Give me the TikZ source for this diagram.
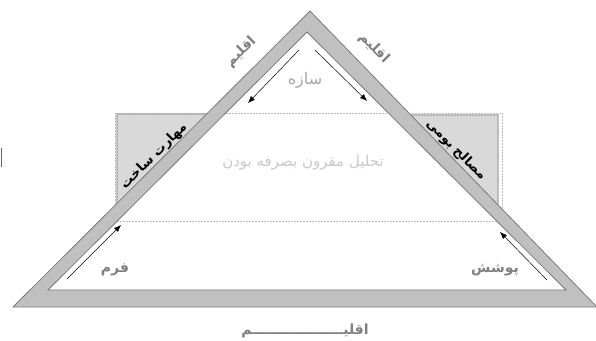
\documentclass[tikz,border=0pt]{standalone}
\usepackage{fontspec}
\usetikzlibrary{arrows.meta}
\newfontfamily\arabicfont[Script=Arabic]{DejaVu Sans}
\TeXXeTstate=1
\definecolor{bandfill}{HTML}{C0C0C0}
\definecolor{bandline}{HTML}{7A7A7A}
\definecolor{trifill}{HTML}{D9D9D9}
\definecolor{triline}{HTML}{A6A6A6}
\definecolor{txtdark}{HTML}{808080}
\definecolor{txtmid}{HTML}{A6A6A6}
\definecolor{txtlight}{HTML}{C8C8C8}
\tikzset{
  lbl/.style={inner sep=0pt, font=\arabicfont\fontsize{15}{17}\selectfont},
  boldlbl/.style={inner sep=0pt, font=\arabicfont\bfseries\fontsize{14}{16}\selectfont},
  cornerlbl/.style={inner sep=0pt, text=black, font=\arabicfont\bfseries\fontsize{13}{15}\selectfont},
  flow/.style={draw=black, line width=0.5pt, -{Latex[length=7pt,width=5.5pt]}},
  cornertri/.style={fill=trifill, draw=triline, line width=1.3pt},
}
\begin{document}
\begin{tikzpicture}[x=1pt,y=-1pt]
\useasboundingbox (0,0) rectangle (596,340);
% dotted frame
\draw[densely dotted, draw=black!25, line width=0.5pt] (115,113) rectangle (502,221);
% corner triangles
\draw[cornertri] (117,114) -- (217,114) -- (117,213) -- cycle;
\draw[cornertri] (401,115) -- (498,115) -- (498,213) -- cycle;
% band
\fill[bandfill, even odd rule] (310,11) -- (597,307) -- (13,307) -- cycle
  (307,32) -- (566,290) -- (48,290) -- cycle;
\draw[bandline, line width=0.8pt] (310,11) -- (597,307) -- (13,307) -- cycle;
\draw[bandline, line width=0.8pt] (307,32) -- (566,290) -- (48,290) -- cycle;
% small mark
\draw[draw=black!60, line width=1pt] (1,148) -- (1,167);
% labels
\node[boldlbl, text=txtdark, rotate=45] (eqL) at (241,52) {\beginR اقلیم\endR};
\node[boldlbl, text=txtdark, rotate=-45] (eqR) at (374,48) {\beginR اقلیم\endR};
\node[lbl, text=txtmid, font=\arabicfont\fontsize{16}{18}\selectfont] (saze) at (305,80) {\beginR سازه\endR};
\node[lbl, text=txtlight] (tahlil) at (303,163) {\beginR تحلیل مقرون بصرفه بودن\endR};
\node[cornerlbl, rotate=45] (mahart) at (154,156) {\beginR مهارت ساخت\endR};
\node[cornerlbl, rotate=-45] (masaleh) at (456,150) {\beginR مصالح بومی\endR};
\node[boldlbl, text=txtdark] (form) at (115,270) {\beginR فرم\endR};
\node[boldlbl, text=txtdark] (pooshesh) at (495,270) {\beginR پوشش\endR};
\node[boldlbl, text=txtdark] (eqB) at (305,331) {\beginR اقلیـــــــــــــــــــم\endR};
% arrows
\coordinate (a1s) at (299,50); \coordinate (a1e) at (248,103);
\coordinate (a2s) at (315,50); \coordinate (a2e) at (367,101);
\coordinate (a3s) at (67,279); \coordinate (a3e) at (121,225);
\coordinate (a4s) at (547,280); \coordinate (a4e) at (500,232);
\draw[flow] (a1s) -- (a1e);
\draw[flow] (a2s) -- (a2e);
\draw[flow] (a3s) -- (a3e);
\draw[flow] (a4s) -- (a4e);
\end{tikzpicture}
\end{document}
